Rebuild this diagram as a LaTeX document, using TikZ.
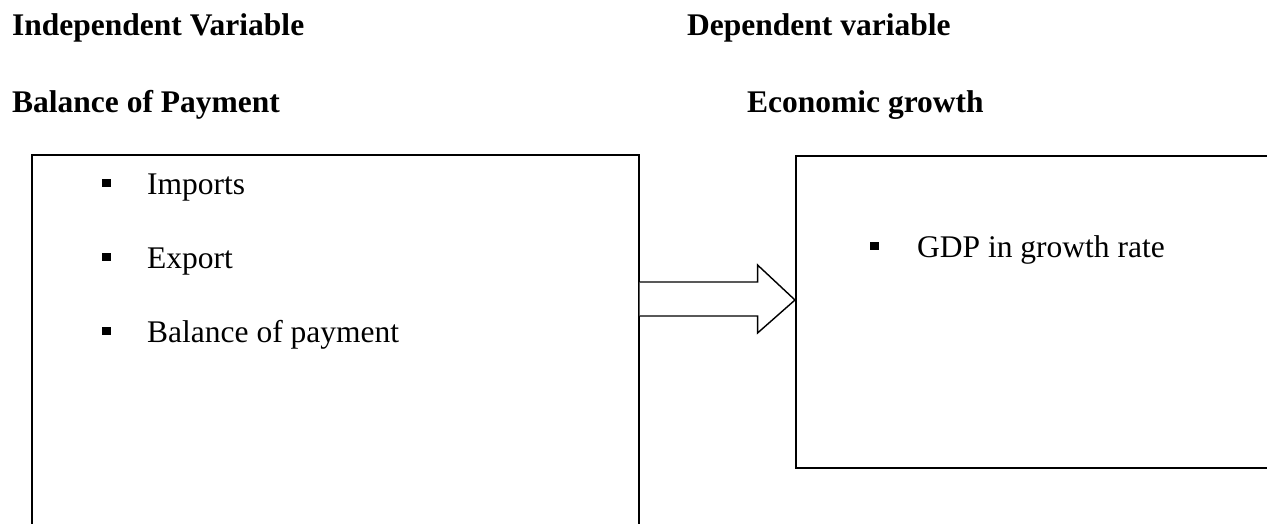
\documentclass[tikz,border=0pt]{standalone}
\usepackage{fontspec}
\setmainfont{Liberation Serif}
\usetikzlibrary{calc}
\tikzset{
	head/.style={anchor=base west, inner sep=0, font=\fontsize{31.5}{38}\selectfont\bfseries},
	item/.style={anchor=base west, inner sep=0, font=\fontsize{31.5}{38}\selectfont},
	dot/.style={fill=black, minimum size=8.5pt, inner sep=0},
	box/.style={draw, line width=0.55mm, anchor=north west, inner sep=0}
}

\begin{document}
\begin{tikzpicture}[x=1pt, y=-1pt]
			%%%%% START %%%%%
			
			\useasboundingbox (0, 0) rectangle (1267, 523);
			\clip (0, 0) rectangle (1267, 523);
			
			\node[head] (indep) at (12, 35) {Independent Variable};
			\node[head] (dep) at (687, 35) {Dependent variable};
			\node[head] (bop) at (12, 112) {Balance of Payment};
			\node[head] (growth) at (747, 112) {Economic growth};
			
			\node[box, minimum width=607pt, minimum height=420pt] (bopbox) at (31, 154) {};
			\node[box, minimum width=520pt, minimum height=312pt] (growthbox) at (795, 155) {};
			
			\node[item] (imports) at (147, 194) {Imports};
			\node[item] (export) at (147, 268) {Export};
			\node[item] (balance) at (147, 342) {Balance of payment};
			\node[item] (gdp) at (917, 257) {GDP in growth rate};
			
			\node[dot] (d1) at ($(imports.base west)+(-40.5, -11)$) {};
			\node[dot] (d2) at ($(export.base west)+(-40.5, -11)$) {};
			\node[dot] (d3) at ($(balance.base west)+(-40.5, -11)$) {};
			\node[dot] (d4) at ($(gdp.base west)+(-42.5, -11)$) {};
			
			\draw[line width=0.5mm, fill=white] ($(bopbox.north east)+(0, 128)$) -- ++(118, 0) -- ++(0, -17)
				-- ($(growthbox.north west)+(0, 145)$) -- ($(bopbox.north east)+(118, 179)$) -- ++(0, -17)
				-- ($(bopbox.north east)+(0, 162)$);
			
			%%%%% END %%%%%
		\end{tikzpicture}
\end{document}
